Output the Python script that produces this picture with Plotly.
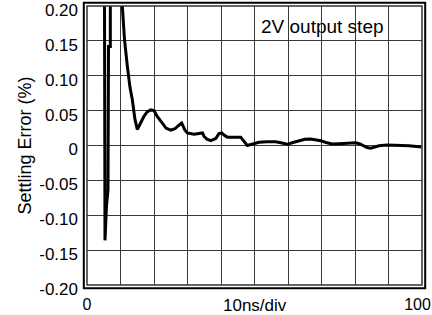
import plotly.graph_objects as go

# Settling error trace (time axis 0-100 = 10ns/div, error in %)
time_ns = [5.16, 5.37, 5.82, 6.27, 6.42, 6.96, 6.96, 10.45, 10.54, 11.19, 12.03, 12.84, 13.52,
           14.33, 15.01, 15.82, 17.01, 17.91, 19.01, 20.0, 20.9, 22.48, 23.58, 24.99, 26.27,
           27.16, 28.27, 29.25, 29.94, 31.94, 33.94, 34.48, 34.93, 35.82, 36.93, 37.61, 38.42,
           39.4, 40.21, 40.9, 41.88, 45.88, 46.87, 47.85, 48.96, 50.36, 51.34, 53.73, 56.33,
           58.21, 59.79, 61.49, 63.28, 65.07, 66.78, 68.06, 69.76, 71.34, 73.22, 75.22, 77.22,
           78.51, 80.21, 81.49, 82.69, 83.58, 84.69, 85.97, 87.16, 89.55, 92.15, 94.33, 96.12,
           97.61, 99.1, 99.85]
error_pct = [0.35, -0.136, -0.086, -0.064, 0.142, 0.142, 0.35, 0.35, 0.2, 0.152, 0.114, 0.083, 0.066,
             0.037, 0.023, 0.031, 0.042, 0.048, 0.051, 0.05, 0.042, 0.032, 0.025, 0.022, 0.024,
             0.028, 0.032, 0.022, 0.018, 0.016, 0.017, 0.018, 0.013, 0.009, 0.007, 0.008, 0.010,
             0.017, 0.018, 0.015, 0.012, 0.012, 0.0065, 0.0, 0.0015, 0.003, 0.0046, 0.0055, 0.0055,
             0.0036, 0.0017, 0.0043, 0.0069, 0.0089, 0.0094, 0.0084, 0.0069, 0.0043, 0.0022, 0.0026, 0.0032,
             0.0036, 0.004, 0.0022, -0.0003, -0.003, -0.004, -0.0022, -0.0003, 0.0007, 0.0007, 0.0003, -0.0003,
             -0.001, -0.0017, -0.002]

x_tickvals = [0, 10, 20, 30, 40, 50, 60, 70, 80, 90, 100]
x_ticktext = ["0", "", "", "", "", "", "", "", "", "", "100\u00a0\u00a0"]
y_tickvals = [0.20, 0.15, 0.10, 0.05, 0, -0.05, -0.10, -0.15, -0.20]
y_ticktext = ["0.20", "0.15", "0.10", "0.05", "0", "-0.05", "-0.10", "-0.15", "-0.20"]

FONT = "Liberation Sans, Arial, sans-serif"
GRID = "#3a3a3a"

fig = go.Figure()
fig.add_trace(go.Scatter(x=time_ns, y=error_pct, mode="lines",
                         line=dict(color="black", width=3), showlegend=False))

W, H = 432, 315
L, R, T, B = 87, 10, 6, 30
pw, ph = W - L - R, H - T - B
ox, oy = 3.2 / pw, 3.2 / ph

fig.update_layout(
    template="none",
    width=W, height=H,
    margin=dict(l=L, r=R, t=T, b=B, autoexpand=False),
    paper_bgcolor="white", plot_bgcolor="white",
    font=dict(family=FONT, color="black"),
    xaxis=dict(range=[0, 100], tickvals=x_tickvals, ticktext=x_ticktext,
               showgrid=True, gridcolor=GRID, gridwidth=1.2, zeroline=False, showline=False,
               ticks="", tickfont=dict(size=16, family=FONT), ticklabelstandoff=8,
               ticklabeloverflow="allow", automargin=False, fixedrange=True),
    yaxis=dict(range=[-0.2, 0.2], tickvals=y_tickvals, ticktext=y_ticktext,
               showgrid=True, gridcolor=GRID, gridwidth=1.2, zeroline=False, showline=False,
               ticks="", tickfont=dict(size=17, family=FONT), ticklabelstandoff=8,
               ticklabelshift=4, ticklabeloverflow="allow", automargin=False, fixedrange=True),
    shapes=[
        dict(type="rect", xref="paper", yref="paper", x0=0, x1=1, y0=0, y1=1,
             line=dict(color="#333", width=1.5), layer="above"),
        dict(type="rect", xref="paper", yref="paper", x0=-ox, x1=1 + ox, y0=-oy, y1=1 + oy,
             line=dict(color="black", width=2), layer="above"),
    ],
    annotations=[
        dict(text="2V output step", x=70.4, y=0.171, xref="x", yref="y",
             showarrow=False, font=dict(size=19, family=FONT, color="black")),
        dict(text="10ns/div", x=0.5, y=0, xref="paper", yref="paper", yanchor="middle",
             yshift=-20, showarrow=False, font=dict(size=17, family=FONT, color="black")),
        dict(text="Settling Error (%)", x=0, y=0.5, xref="paper", yref="paper",
             xanchor="center", yanchor="middle", xshift=-63, textangle=-90,
             showarrow=False, font=dict(size=18, family=FONT, color="black")),
    ],
)

fig.write_html("out.html", config={"displayModeBar": False},
               post_script="document.body.style.margin='0';")
